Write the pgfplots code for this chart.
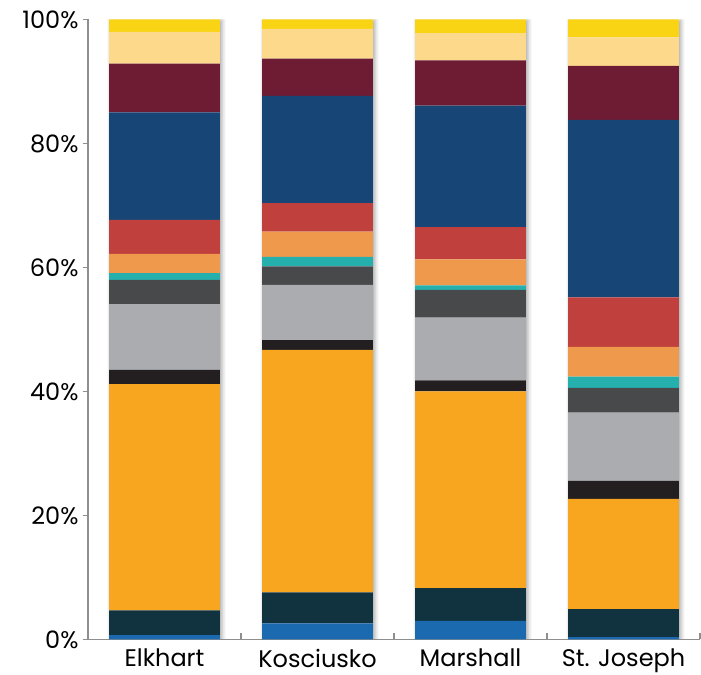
\documentclass[border=0pt]{standalone}
\usepackage{fontspec}
\setmainfont{Poppins}
\usepackage{pgfplots}
\pgfplotsset{compat=1.18}
\usetikzlibrary{shadows.blur}

\definecolor{cBlue}{HTML}{1B6AB0}
\definecolor{cDTeal}{HTML}{11333F}
\definecolor{cOrange}{HTML}{F8A51F}
\definecolor{cBlack}{HTML}{231F20}
\definecolor{cLGray}{HTML}{ABACAF}
\definecolor{cDGray}{HTML}{48494B}
\definecolor{cTeal}{HTML}{25B0AE}
\definecolor{cLOrange}{HTML}{EF994C}
\definecolor{cRed}{HTML}{C0403E}
\definecolor{cNavy}{HTML}{174576}
\definecolor{cMaroon}{HTML}{6E1C34}
\definecolor{cLYellow}{HTML}{FDD98C}
\definecolor{cYellow}{HTML}{F8D414}
\definecolor{axisgray}{HTML}{8E8E8E}

% shares (%) of each county, from the bottom segment to the top one
\pgfplotstableread{
x blue dteal orange black lgray dgray teal lorange red navy maroon lyellow yellow
0 0.7 4.0 36.5 2.3 10.6 3.9 1.1 3.1 5.5 17.3 7.9 5.1 2.0
1 2.6 5.0 39.1 1.6 8.9 3.0 1.5 4.1 4.6 17.3 6.0 4.8 1.5
2 3.0 5.3 31.7 1.8 10.1 4.5 0.7 4.2 5.2 19.6 7.3 4.4 2.2
3 0.4 4.5 17.8 2.9 11.0 4.0 1.8 4.8 8.0 28.6 8.7 4.6 2.9
}\shares

\pgfplotsset{
  countyaxis/.style={
    scale only axis, width=612bp, height=620bp,
    at={(88bp,35.5bp)}, anchor=south west,
    xmin=-0.5, xmax=3.5, ymin=0, ymax=100,
    bar width=0.725,
  },
}

\begin{document}
\begin{tikzpicture}
\path[use as bounding box] (0,0) rectangle (701bp,675bp);

% soft shadow behind the columns
\begin{axis}[countyaxis, ybar, hide axis]
\addplot[fill=white, draw=none,
  blur shadow={shadow xshift=2bp, shadow yshift=-1bp,
    shadow blur radius=4bp, shadow opacity=35}]
  coordinates {(0,100) (1,100) (2,100) (3,100)};
\end{axis}

\begin{axis}[countyaxis, ybar stacked,
  axis x line*=bottom, axis y line*=left,
  axis line style={draw=axisgray, line width=1.3bp},
  tick align=outside,
  xtick={0,1,2,3},
  xticklabels={Elkhart, Kosciusko, Marshall, St. Joseph},
  major x tick style={draw=none},
  minor xtick={-0.5,0.5,1.5,2.5,3.5},
  minor tick length=6bp,
  minor x tick style={draw=axisgray, line width=1.3bp, yshift=6bp},
  ytick={0,20,...,100},
  major tick length=5bp,
  major y tick style={draw=axisgray, line width=1.3bp},
  yticklabel={\pgfmathprintnumber{\tick}\%},
  /pgf/number format/assume math mode=true,
  tick label style={font=\fontsize{24bp}{26bp}\selectfont, text=black},
  yticklabel style={xshift=-1bp},
  xticklabel style={yshift=-1bp},
  every axis plot/.append style={draw=none},
]
\addplot[fill=cBlue]    table[x=x, y=blue]    {\shares};
\addplot[fill=cDTeal]   table[x=x, y=dteal]   {\shares};
\addplot[fill=cOrange]  table[x=x, y=orange]  {\shares};
\addplot[fill=cBlack]   table[x=x, y=black]   {\shares};
\addplot[fill=cLGray]   table[x=x, y=lgray]   {\shares};
\addplot[fill=cDGray]   table[x=x, y=dgray]   {\shares};
\addplot[fill=cTeal]    table[x=x, y=teal]    {\shares};
\addplot[fill=cLOrange] table[x=x, y=lorange] {\shares};
\addplot[fill=cRed]     table[x=x, y=red]     {\shares};
\addplot[fill=cNavy]    table[x=x, y=navy]    {\shares};
\addplot[fill=cMaroon]  table[x=x, y=maroon]  {\shares};
\addplot[fill=cLYellow] table[x=x, y=lyellow] {\shares};
\addplot[fill=cYellow]  table[x=x, y=yellow]  {\shares};
\end{axis}
\end{tikzpicture}
\end{document}
